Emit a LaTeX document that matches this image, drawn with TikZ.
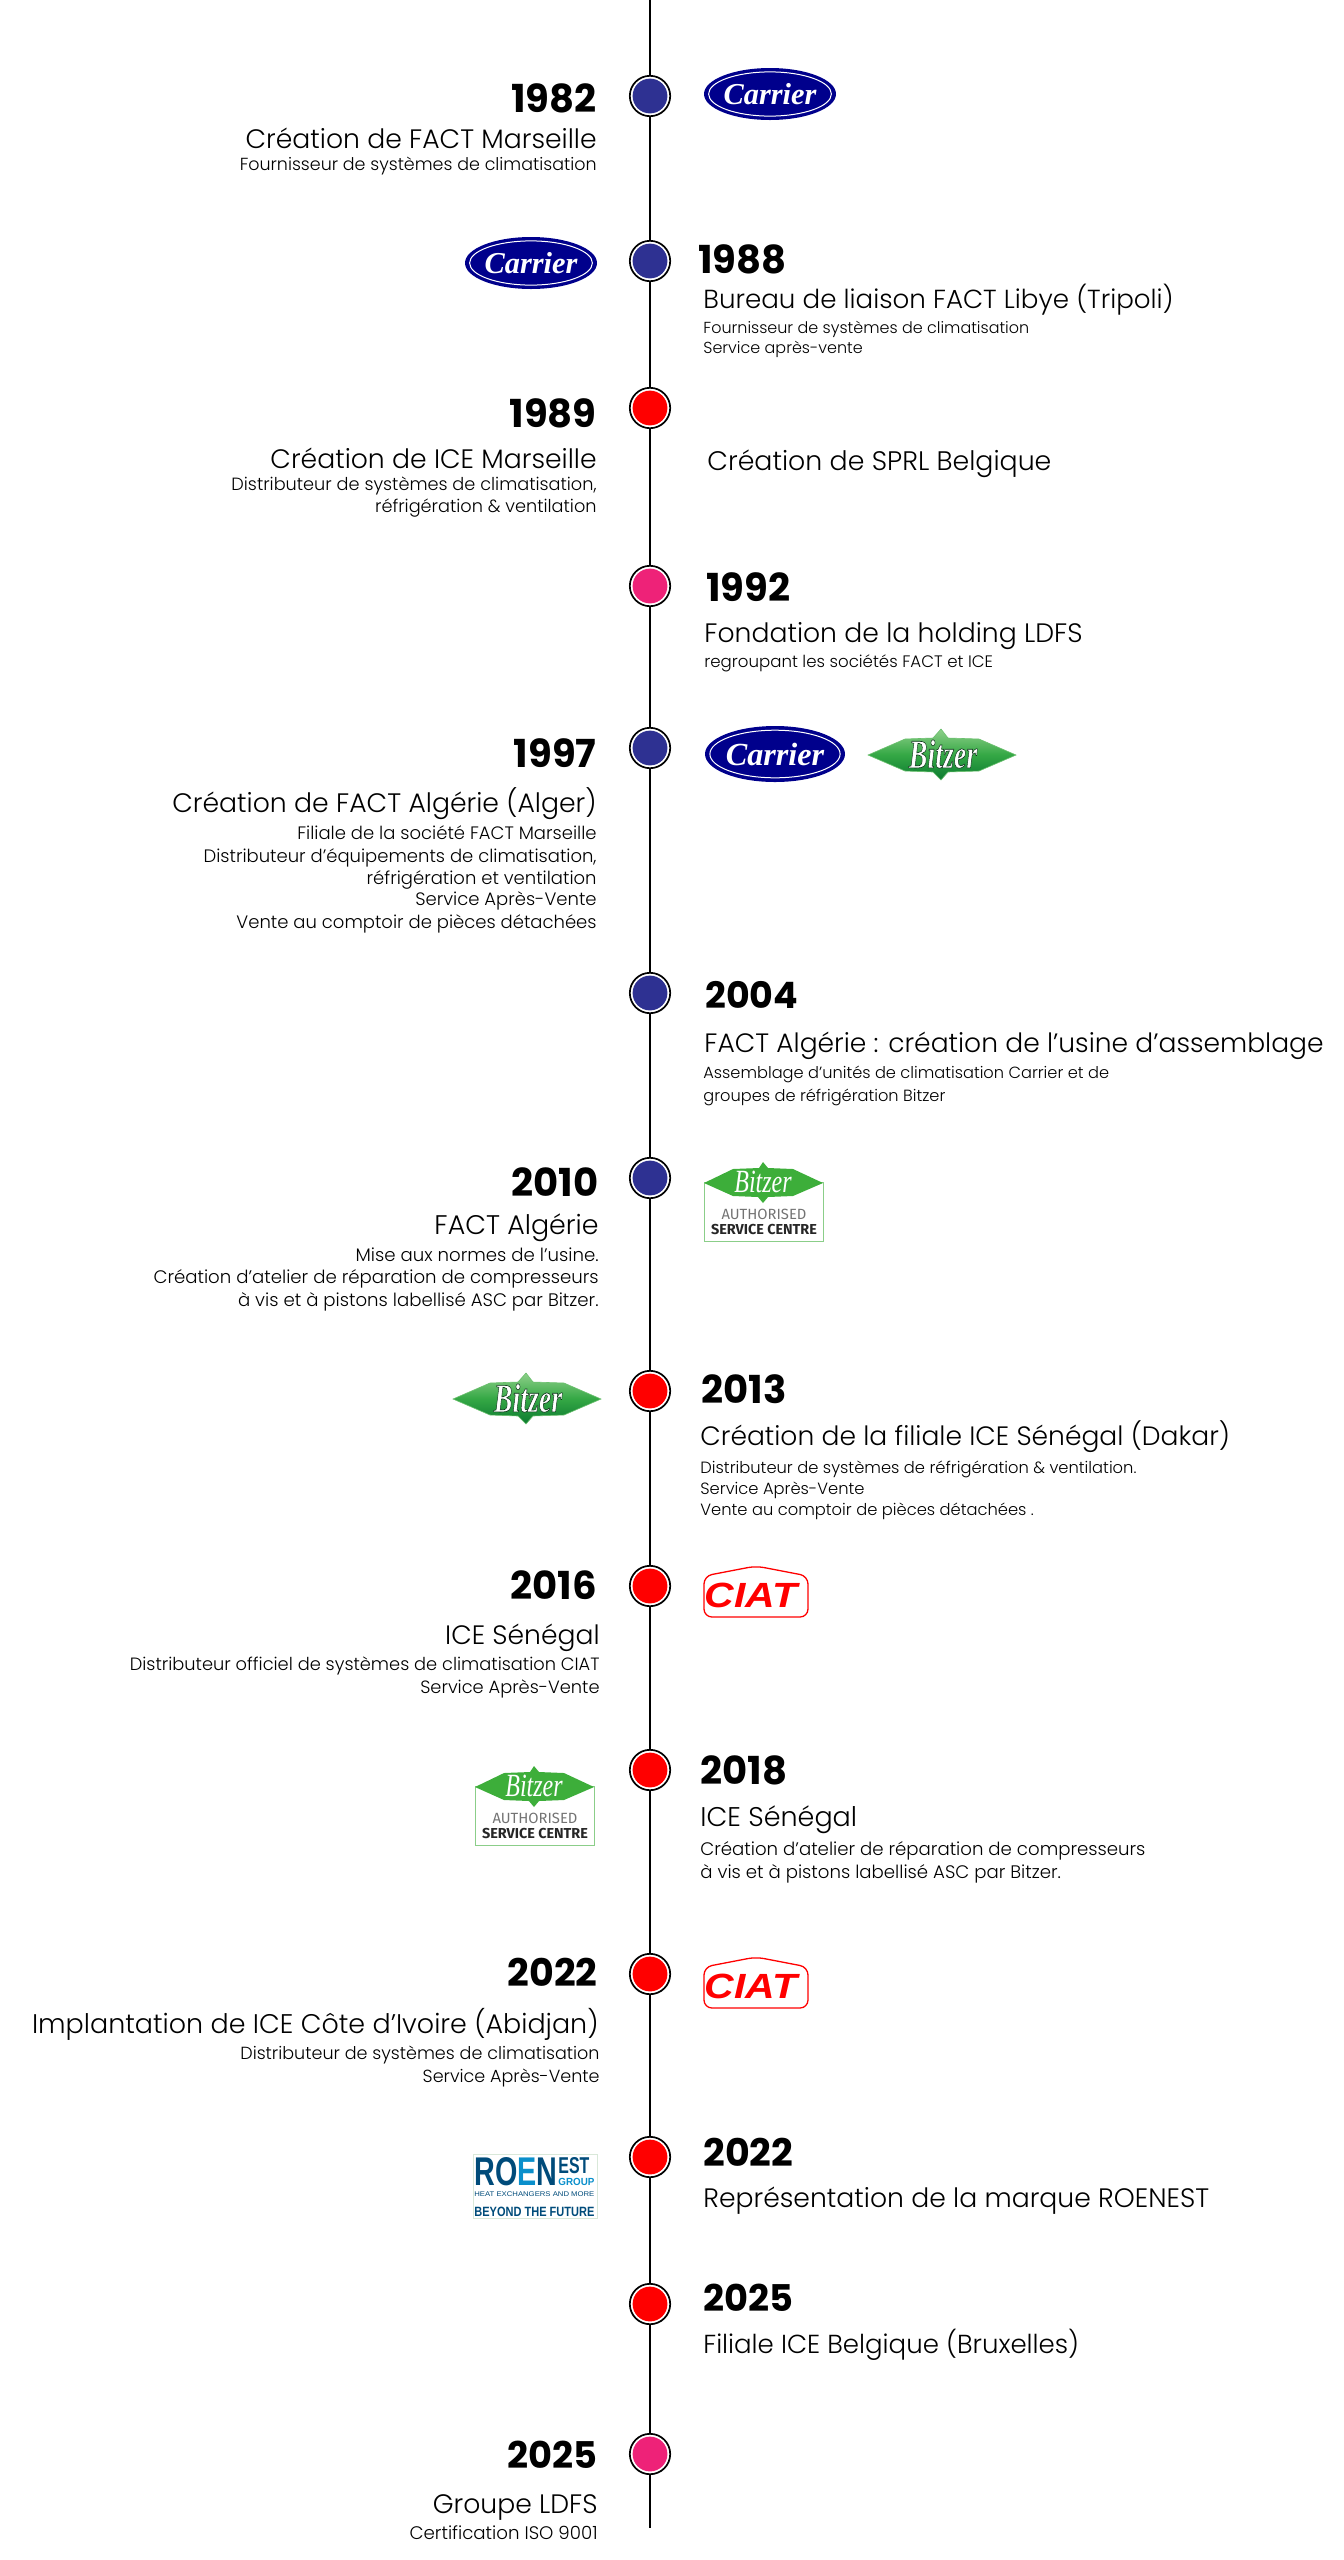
\documentclass[tikz,border=0pt]{standalone}
\usepackage{fontspec}
\usepackage{graphicx}
\usetikzlibrary{shapes.geometric}
\setmainfont{Poppins Light}[BoldFont={Poppins Bold}]
\newfontfamily\logoserif{Liberation Serif}
\newfontfamily\logosans{Liberation Sans}
\newfontfamily\ascfont{Fira Sans}
\definecolor{dotblue}{HTML}{2E3192}
\definecolor{dotred}{HTML}{FF0000}
\definecolor{dotpink}{HTML}{EE2278}
\definecolor{carnavy}{HTML}{00008C}
\definecolor{bitgreen}{HTML}{3DAE3A}
\definecolor{bitlight}{HTML}{8FD08A}
\definecolor{bitmid}{HTML}{35A845}
\definecolor{bitdark}{HTML}{0B7A30}
\definecolor{roenavy}{HTML}{004B7A}
\definecolor{roeblue}{HTML}{0A8FCB}
\tikzset{
  ringdot/.style={circle,draw=black,fill=white,line width=0.85pt,minimum size=20.2pt,inner sep=0pt},
  disc/.style={circle,fill=#1,minimum size=17.4pt,inner sep=0pt},
  tline/.style={draw=black,line width=0.85pt},
  yrR/.style={anchor=base east,inner sep=0pt,font=\fontsize{#1}{20}\bfseries},
  yrR/.default=19.3,
  yrL/.style={anchor=base west,inner sep=0pt,font=\fontsize{#1}{20}\bfseries},
  yrL/.default=19.3,
  mainR/.style={anchor=base east,inner sep=0pt,font=\fontsize{#1}{15}\selectfont},
  mainR/.default=13.33,
  mainL/.style={anchor=base west,inner sep=0pt,font=\fontsize{#1}{15}\selectfont},
  mainL/.default=13.33,
  subR/.style={anchor=base east,inner sep=0pt,font=\fontsize{#1}{10}\selectfont},
  subL/.style={anchor=base west,inner sep=0pt,font=\fontsize{#1}{10}\selectfont},
  roetext/.style={anchor=base west,inner sep=0pt},
}
\newcommand\outlinedtext[1]{\special{pdf:code 2 Tr 0.22 w 0.05 0.2 0.1 RG}#1\special{pdf:code 0 Tr}}
% name, cx, cy, rx, ry
\newcommand\carrierlogo[5]{%
  \pgfmathsetmacro\cfs{#4*0.23}%
  \node[ellipse,fill=carnavy,inner sep=0pt,minimum width=#4*1pt,minimum height=#5*1pt] (#1) at (#2,#3) {};
  \node[ellipse,draw=white,line width=0.5pt,inner sep=0pt,minimum width=#4*0.93pt,minimum height=#5*0.85pt] (#1r) at (#2,#3) {};
  \node[inner sep=0pt,text=white,font=\logoserif\itshape\bfseries\fontsize{\cfs}{10}\selectfont] (#1t) at (#2,#3) {Carrier};
}
% name, cx, cy
\newcommand\bitzerlogo[3]{%
  \begin{scope}[shift={(#2,#3)}]
  \shade[top color=bitlight,bottom color=bitdark,middle color=bitmid,draw=bitlight!60!bitmid,line width=0.3pt]
   (-74,0)--(-37,-16)--(-9,-17)--(-1,-26)--(6,-17)--(37,-16)--(74,0)--(37,16)--(6,17)--(-1,25)--(-9,17)--(-37,16)--cycle;
  \node[inner sep=0pt,text=white,font=\logoserif\itshape\bfseries\fontsize{14}{14}\selectfont] (#1) at (1,-1) {\scalebox{1}[1.45]{\outlinedtext{Bitzer}}};
  \end{scope}
}
% name, left, box top
\newcommand\asclogo[3]{%
  \begin{scope}[shift={(#2,#3)}]
  \draw[draw=bitgreen!60,line width=0.4pt] (0,0) rectangle (119,59);
  \fill[bitgreen] (0,1)--(29,-13)--(55,-14)--(59,-20)--(64,-14)--(89,-13)--(119,1)--(89,14)--(64,15)--(59,21)--(54,15)--(29,14)--cycle;
  \node[inner sep=0pt,text=white,font=\logoserif\itshape\fontsize{12}{13}\selectfont] (#1a) at (59,0) {\scalebox{1}[1.35]{Bitzer}};
  \node[inner sep=0pt,anchor=base,text=black!55,font=\ascfont\fontsize{7.4}{8}\selectfont] (#1b) at (60,37) {AUTHORISED};
  \node[inner sep=0pt,anchor=base,text=black!85,font=\ascfont\bfseries\fontsize{7.2}{8}\selectfont] (#1c) at (60,52) {SERVICE CENTRE};
  \end{scope}
}
% name, left, top
\newcommand\ciatlogo[3]{%
  \begin{scope}[shift={(#2,#3)}]
  \draw[dotred,line width=0.65pt,rounded corners=4pt] (1,11)--(53,1)--(105,11)--(105,52)--(1,52)--cycle;
  \node[inner sep=0pt,anchor=base,text=dotred,font=\logosans\bfseries\itshape\fontsize{17.5}{18}\selectfont] (#1) at (48,42) {\scalebox{1.17}[1]{CIAT}};
  \end{scope}
}
\begin{document}
\begin{tikzpicture}[x=0.5pt,y=-0.5pt]
\useasboundingbox (0,0) rectangle (1344,2560);
\coordinate (top) at (650,0);
\coordinate (bot) at (650,2528);
% dots
\foreach \n/\y/\c in {1/96/dotblue,2/261/dotblue,3/408/dotred,4/586/dotpink,5/748/dotblue,6/993/dotblue,7/1178/dotblue,8/1391/dotred,9/1586/dotred,10/1770/dotred,11/1974/dotred,12/2157/dotred,13/2304/dotred,14/2454/dotpink}{
  \node[ringdot] (r\n) at (650,\y) {};
  \node[disc=\c] (d\n) at (650,\y) {};
}
\draw[tline] (top)--(r1.north);
\foreach \a/\b in {1/2,2/3,3/4,4/5,5/6,6/7,7/8,8/9,9/10,10/11,11/12,12/13,13/14}{\draw[tline] (r\a.south)--(r\b.north);}
\draw[tline] (r14.south)--(bot);
% 1982
\node[yrR] (y1) at (597,112) {1982};
\node[mainR] (m1) at (597,148) {Création de FACT Marseille};
\node[subR=8.74] (s1) at (597,170) {Fournisseur de systèmes de climatisation};
\carrierlogo{c1}{770}{94}{66}{26}
% 1988
\node[yrL] (y2) at (698,273) {1988};
\node[mainL=13.07] (m2) at (703,308) {Bureau de liaison FACT Libye (Tripoli)};
\node[subL=7.98] (s2a) at (703,333) {Fournisseur de systèmes de climatisation};
\node[subL=7.98] (s2b) at (703,353) {Service après-vente};
\carrierlogo{c2}{531}{263}{66}{26}
% 1989
\node[yrR] (y3) at (597,427) {1989};
\node[mainR] (m3) at (597,468) {Création de ICE Marseille};
\node[subR=8.85] (s3a) at (597,490) {Distributeur de systèmes de climatisation,};
\node[subR=8.85] (s3b) at (597,512) {réfrigération \& ventilation};
\node[mainL=13.4] (m3r) at (707,470) {Création de SPRL Belgique};
% 1992
\node[yrL] (y4) at (706,601) {1992};
\node[mainL] (m4) at (704,642) {Fondation de la holding LDFS};
\node[subL=8.3] (s4) at (704,667) {regroupant les sociétés FACT et ICE};
% 1997
\node[yrR] (y5) at (597,767) {1997};
\node[mainR=13.35] (m5) at (597,812) {Création de FACT Algérie (Alger)};
\node[subR=9] (s5a) at (597,839) {Filiale de la société FACT Marseille};
\node[subR=9] (s5b) at (597,862) {Distributeur d’équipements de climatisation,};
\node[subR=9] (s5c) at (597,884) {réfrigération et ventilation};
\node[subR=9] (s5d) at (597,905) {Service Après-Vente};
\node[subR=9] (s5e) at (597,928) {Vente au comptoir de pièces détachées};
\carrierlogo{c5}{775}{754}{70}{28}
\bitzerlogo{b5}{942}{755}
% 2004
\node[yrL=18.2] (y6) at (705,1008) {2004};
\node[mainL=13.28] (m6) at (704,1052) {FACT Algérie : création de l’usine d’assemblage};
\node[subL=8.1] (s6a) at (703,1078) {Assemblage d’unités de climatisation Carrier et de};
\node[subL=8.1] (s6b) at (703,1101) {groupes de réfrigération Bitzer};
% 2010
\node[yrR] (y7) at (599,1196) {2010};
\node[mainR=13.45] (m7) at (599,1234) {FACT Algérie};
\node[subR=9.07] (s7a) at (599,1261) {Mise aux normes de l’usine.};
\node[subR=9.07] (s7b) at (599,1283) {Création d’atelier de réparation de compresseurs};
\node[subR=9.07] (s7c) at (599,1306) {à vis et à pistons labellisé ASC par Bitzer.};
\asclogo{a7}{704}{1182}
% 2013
\node[yrL] (y8) at (701,1403) {2013};
\node[mainL=13.28] (m8) at (700,1445) {Création de la filiale ICE Sénégal (Dakar)};
\node[subL=8.15] (s8a) at (700,1473) {Distributeur de systèmes de réfrigération \& ventilation.};
\node[subL=8.15] (s8b) at (700,1494) {Service Après-Vente};
\node[subL=8.15] (s8c) at (700,1515) {Vente au comptoir de pièces détachées .};
\bitzerlogo{b8}{527}{1399}
% 2016
\node[yrR] (y9) at (597,1599) {2016};
\node[mainR=13.3] (m9) at (600,1644) {ICE Sénégal};
\node[subR=8.9] (s9a) at (600,1670) {Distributeur officiel de systèmes de climatisation CIAT};
\node[subR=8.9] (s9b) at (600,1693) {Service Après-Vente};
\ciatlogo{l9}{703}{1565}
% 2018
\node[yrL] (y10) at (700,1784) {2018};
\node[mainL=13.5] (m10) at (700,1826) {ICE Sénégal};
\node[subL=9.07] (s10a) at (700,1855) {Création d’atelier de réparation de compresseurs};
\node[subL=9.07] (s10b) at (700,1878) {à vis et à pistons labellisé ASC par Bitzer.};
\asclogo{a10}{475}{1786}
% 2022 R
\node[yrR=19] (y11) at (598,1986) {2022};
\node[mainR=13.47] (m11) at (599,2033) {Implantation de ICE Côte d’Ivoire (Abidjan)};
\node[subR=8.78] (s11a) at (600,2059) {Distributeur de systèmes de climatisation};
\node[subR=8.78] (s11b) at (600,2082) {Service Après-Vente};
\ciatlogo{l11}{703}{1956}
% 2022 L
\node[yrL=19] (y12) at (703,2166) {2022};
\node[mainL=13.33] (m12) at (703,2207) {Représentation de la marque ROENEST};
% ROENEST
\node[draw=green!40!black!15,line width=0.25pt,inner sep=0pt,minimum width=62pt,minimum height=32pt,anchor=north west] (roebox) at (473,2154) {};
\node[roetext,font=\logosans\bfseries\fontsize{21.6}{22}\selectfont] (roen) at (474,2185) {\resizebox{41.5pt}{14pt}{\textcolor{roenavy}{RO}\textcolor{roeblue}{E}\textcolor{roenavy}{N}}};
\node[roetext,text=roenavy,font=\logosans\bfseries\fontsize{10}{11}\selectfont] (roest) at (558,2173) {\resizebox{15.5pt}{8pt}{EST}};
\node[roetext,text=roeblue,font=\logosans\bfseries\fontsize{6}{7}\selectfont] (roegr) at (558,2185) {\resizebox{18pt}{3.6pt}{GROUP}};
\node[roetext,text=roenavy,font=\logosans\fontsize{3.4}{4}\selectfont] (roeh) at (474,2196) {\resizebox{60pt}{2.4pt}{HEAT EXCHANGERS AND MORE}};
\node[roetext,text=roenavy,font=\logosans\bfseries\fontsize{6}{7}\selectfont] (roeb) at (474,2216) {\resizebox{60pt}{4.7pt}{BEYOND THE FUTURE}};
% 2025 L
\node[yrL=18.4] (y13) at (703,2311) {2025};
\node[mainL=13.03] (m13) at (703,2353) {Filiale ICE Belgique (Bruxelles)};
% 2025 R
\node[yrR=18.4] (y14) at (598,2468) {2025};
\node[mainR] (m14) at (598,2513) {Groupe LDFS};
\node[subR=9.1] (s14) at (598,2539) {Certification ISO 9001};
\end{tikzpicture}
\end{document}
